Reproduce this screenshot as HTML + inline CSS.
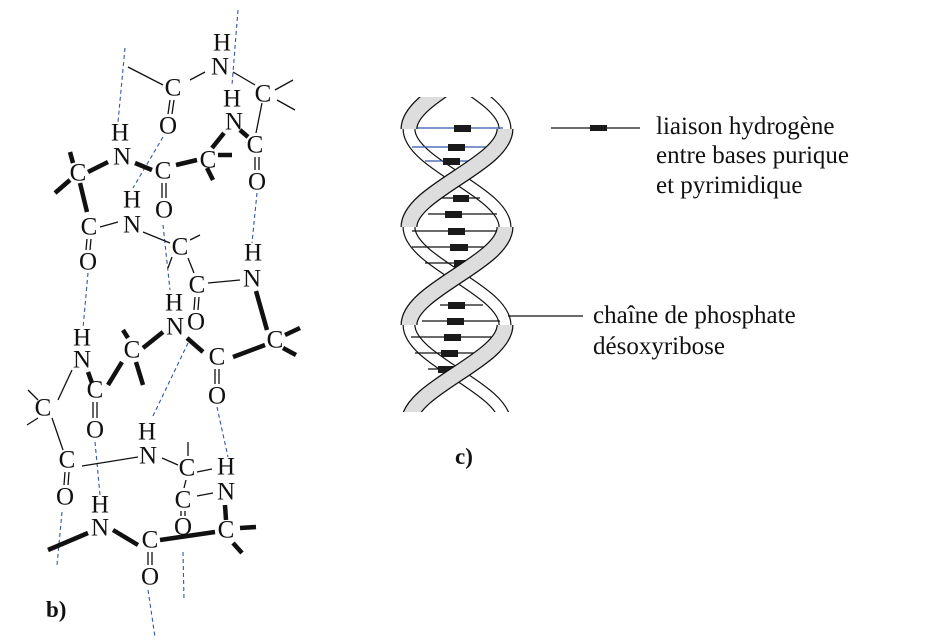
<!DOCTYPE html>
<html><head><meta charset="utf-8"><style>
html,body{margin:0;padding:0;background:#fff}
svg{display:block}
.a{font-family:"Liberation Serif",serif;font-size:25px;fill:#111;text-anchor:middle;dominant-baseline:central}
.t{font-family:"Liberation Serif",serif;font-size:25px;fill:#111}
.n{stroke:#111;stroke-width:1.3;fill:none}
.k{stroke:#111;stroke-width:4.5;fill:none}
.d{stroke:#3355aa;stroke-width:1.1;stroke-dasharray:4 3;fill:none}
</style></head><body>
<svg width="939" height="641" viewBox="0 0 939 641" xmlns="http://www.w3.org/2000/svg">
<g class="d">
<line x1="125" y1="48" x2="118" y2="122"/>
<line x1="238" y1="10" x2="232" y2="85"/>
<line x1="163" y1="137" x2="133" y2="188"/>
<line x1="257" y1="193" x2="252" y2="243"/>
<line x1="88" y1="273" x2="83" y2="328"/>
<line x1="163" y1="225" x2="170" y2="290"/>
<line x1="188" y1="343" x2="152" y2="418"/>
<line x1="217" y1="407" x2="228" y2="457"/>
<line x1="95" y1="442" x2="100" y2="495"/>
<line x1="62" y1="512" x2="57" y2="565"/>
<line x1="183" y1="552" x2="184" y2="600"/>
<line x1="148" y1="590" x2="155" y2="637"/>
</g>
<g class="n">
<line x1="128" y1="67" x2="163" y2="85"/>
<line x1="190" y1="80" x2="205" y2="72"/>
<line x1="233" y1="72" x2="255" y2="85"/>
<line x1="275" y1="90" x2="293" y2="80"/>
<line x1="277" y1="100" x2="295" y2="110"/>
<line x1="262" y1="103" x2="256" y2="133"/>
<line x1="100" y1="227" x2="118" y2="222"/>
<line x1="143" y1="232" x2="170" y2="243"/>
<line x1="190" y1="240" x2="200" y2="235"/>
<line x1="172" y1="257" x2="168" y2="268"/>
<line x1="188" y1="258" x2="194" y2="273"/>
<line x1="208" y1="283" x2="240" y2="280"/>
<line x1="72" y1="370" x2="58" y2="400"/>
<line x1="28" y1="390" x2="38" y2="400"/>
<line x1="27" y1="425" x2="38" y2="418"/>
<line x1="52" y1="418" x2="63" y2="450"/>
<line x1="82" y1="466" x2="138" y2="457"/>
<line x1="162" y1="458" x2="178" y2="465"/>
<line x1="188" y1="442" x2="188" y2="456"/>
<line x1="197" y1="472" x2="212" y2="469"/>
<line x1="197" y1="496" x2="213" y2="493"/>
<line x1="186" y1="480" x2="184" y2="488"/>
<line x1="170" y1="100" x2="168" y2="114"/><line x1="174" y1="100" x2="172" y2="114"/>
<line x1="255" y1="157" x2="255" y2="170"/><line x1="259" y1="157" x2="259" y2="170"/>
<line x1="162" y1="183" x2="162" y2="198"/><line x1="166" y1="183" x2="166" y2="198"/>
<line x1="87" y1="239" x2="86" y2="250"/><line x1="91" y1="239" x2="90" y2="250"/>
<line x1="195" y1="297" x2="194" y2="310"/><line x1="199" y1="297" x2="198" y2="310"/>
<line x1="215" y1="369" x2="215" y2="384"/><line x1="219" y1="369" x2="219" y2="384"/>
<line x1="93" y1="402" x2="93" y2="418"/><line x1="97" y1="402" x2="97" y2="418"/>
<line x1="65" y1="472" x2="64" y2="485"/><line x1="69" y1="472" x2="68" y2="485"/>
<line x1="181" y1="511" x2="181" y2="516"/><line x1="185" y1="511" x2="185" y2="516"/>
<line x1="148" y1="552" x2="148" y2="565"/><line x1="152" y1="552" x2="152" y2="565"/>
</g>
<g class="k">
<line x1="240" y1="130" x2="248" y2="137"/>
<line x1="224" y1="133" x2="212" y2="148"/>
<line x1="218" y1="155" x2="232" y2="155"/>
<line x1="207" y1="168" x2="213" y2="180"/>
<line x1="176" y1="165" x2="197" y2="160"/>
<line x1="135" y1="163" x2="152" y2="170"/>
<line x1="88" y1="172" x2="108" y2="162"/>
<line x1="70" y1="152" x2="73" y2="163"/>
<line x1="55" y1="193" x2="70" y2="180"/>
<line x1="80" y1="183" x2="87" y2="212"/>
<line x1="256" y1="291" x2="267" y2="330"/>
<line x1="285" y1="335" x2="300" y2="328"/>
<line x1="283" y1="348" x2="296" y2="355"/>
<line x1="233" y1="357" x2="265" y2="345"/>
<line x1="203" y1="352" x2="187" y2="338"/>
<line x1="163" y1="332" x2="143" y2="348"/>
<line x1="123" y1="330" x2="128" y2="338"/>
<line x1="136" y1="362" x2="143" y2="385"/>
<line x1="122" y1="362" x2="108" y2="385"/>
<line x1="88" y1="372" x2="92" y2="383"/>
<line x1="225" y1="505" x2="226" y2="520"/>
<line x1="240" y1="528" x2="256" y2="527"/>
<line x1="233" y1="543" x2="242" y2="553"/>
<line x1="160" y1="540" x2="215" y2="532"/>
<line x1="113" y1="530" x2="138" y2="545"/>
<line x1="48" y1="550" x2="88" y2="533"/>
</g>
<g class="a">
<text x="222" y="43">H</text><text x="220" y="67">N</text>
<text x="173" y="88">C</text><text x="168" y="126">O</text>
<text x="263" y="94">C</text><text x="232" y="99">H</text><text x="234" y="122">N</text>
<text x="255" y="145">C</text><text x="257" y="182">O</text>
<text x="120" y="133">H</text><text x="122" y="157">N</text>
<text x="78" y="173">C</text><text x="163" y="171">C</text><text x="164" y="210">O</text>
<text x="208" y="160">C</text>
<text x="132" y="200">H</text><text x="132" y="225">N</text>
<text x="89" y="227">C</text><text x="88" y="262">O</text>
<text x="180" y="247">C</text><text x="197" y="285">C</text><text x="196" y="322">O</text>
<text x="253" y="253">H</text><text x="252" y="279">N</text>
<text x="275" y="340">C</text>
<text x="174" y="303">H</text><text x="175" y="327">N</text>
<text x="132" y="350">C</text><text x="217" y="357">C</text><text x="217" y="396">O</text>
<text x="82" y="338">H</text><text x="82" y="360">N</text>
<text x="95" y="390">C</text><text x="95" y="430">O</text>
<text x="43" y="408">C</text>
<text x="147" y="432">H</text><text x="148" y="456">N</text>
<text x="67" y="460">C</text><text x="65" y="497">O</text>
<text x="187" y="468">C</text><text x="226" y="467">H</text><text x="226" y="492">N</text>
<text x="183" y="500">C</text><text x="183" y="527">O</text>
<text x="226" y="530">C</text>
<text x="100" y="505">H</text><text x="100" y="528">N</text>
<text x="150" y="540">C</text><text x="150" y="577">O</text>
</g>
<text x="46" y="617" style="font-family:'Liberation Serif',serif;font-size:23px;font-weight:bold;fill:#111">b)</text>

<defs><clipPath id="cp"><rect x="380" y="97" width="160" height="315"/></clipPath></defs>
<g clip-path="url(#cp)">
 <g fill="none">
  <path d="M409,31 C409,66 505,94 505,129 C505,164 409,192 409,227 C409,262 505,290 505,325 C505,360 409,388 409,423" stroke="#111" stroke-width="13"/>
  <path d="M409,31 C409,66 505,94 505,129 C505,164 409,192 409,227 C409,262 505,290 505,325 C505,360 409,388 409,423" stroke="#fff" stroke-width="10.6"/>
  <path d="M505,31 C505,66 409,94 409,129 C409,164 505,192 505,227 C505,262 409,290 409,325 C409,360 505,388 505,423" stroke="#111" stroke-width="13"/>
  <path d="M505,31 C505,66 409,94 409,129 C409,164 505,192 505,227 C505,262 409,290 409,325 C409,360 505,388 505,423" stroke="#fff" stroke-width="10.6"/>
 </g>
 <g stroke-width="1.3">
  <line x1="415" y1="128" x2="503" y2="128" stroke="#3355aa"/>
  <line x1="412" y1="147" x2="493" y2="147" stroke="#3355aa"/>
  <line x1="425" y1="161" x2="475" y2="161" stroke="#3355aa"/>
  <line x1="440" y1="198" x2="480" y2="198" stroke="#111"/>
  <line x1="428" y1="214" x2="497" y2="214" stroke="#111"/>
  <line x1="412" y1="231" x2="505" y2="231" stroke="#111"/>
  <line x1="412" y1="247" x2="503" y2="247" stroke="#111"/>
  <line x1="425" y1="263" x2="485" y2="263" stroke="#111"/>
  <line x1="440" y1="305" x2="483" y2="305" stroke="#111"/>
  <line x1="422" y1="321" x2="500" y2="321" stroke="#111"/>
  <line x1="411" y1="337" x2="505" y2="337" stroke="#111"/>
  <line x1="415" y1="353" x2="495" y2="353" stroke="#111"/>
  <line x1="428" y1="369" x2="470" y2="369" stroke="#111"/>
 </g>
 <g fill="#1a1a1a">
  <rect x="454" y="125" width="17" height="7"/>
  <rect x="448" y="144" width="17" height="7"/>
  <rect x="443" y="158" width="17" height="7"/>
  <rect x="453" y="195" width="16" height="7"/>
  <rect x="445" y="211" width="17" height="7"/>
  <rect x="448" y="228" width="17" height="7"/>
  <rect x="450" y="244" width="18" height="7"/>
  <rect x="454" y="260" width="17" height="7"/>
  <rect x="448" y="302" width="17" height="7"/>
  <rect x="447" y="318" width="17" height="7"/>
  <rect x="444" y="334" width="17" height="7"/>
  <rect x="441" y="350" width="17" height="7"/>
  <rect x="438" y="366" width="17" height="7"/>
 </g>
 <g fill="none">
  <path d="M505,31 C505,66 409,94 409,129" stroke="#111" stroke-width="17"/>
  <path d="M505,31 C505,66 409,94 409,129" stroke="#ddd" stroke-width="14.5"/>
  <path d="M505,129 C505,164 409,192 409,227" stroke="#111" stroke-width="17"/>
  <path d="M505,129 C505,164 409,192 409,227" stroke="#ddd" stroke-width="14.5"/>
  <path d="M505,227 C505,262 409,290 409,325" stroke="#111" stroke-width="17"/>
  <path d="M505,227 C505,262 409,290 409,325" stroke="#ddd" stroke-width="14.5"/>
  <path d="M505,325 C505,360 409,388 409,423" stroke="#111" stroke-width="17"/>
  <path d="M505,325 C505,360 409,388 409,423" stroke="#ddd" stroke-width="14.5"/>
 </g>
</g>
<line x1="551" y1="128" x2="640" y2="128" stroke="#111" stroke-width="1.3"/>
<rect x="590" y="125" width="17" height="6" fill="#1a1a1a"/>
<text class="t" x="656" y="134">liaison hydrogène</text>
<text class="t" x="656" y="163">entre bases purique</text>
<text class="t" x="656" y="193">et pyrimidique</text>
<line x1="508" y1="316" x2="583" y2="316" stroke="#111" stroke-width="1.3"/>
<text class="t" x="593" y="323">chaîne de phosphate</text>
<text class="t" x="593" y="354">désoxyribose</text>
<text x="455" y="464" style="font-family:'Liberation Serif',serif;font-size:23px;font-weight:bold;fill:#111">c)</text>
</svg>
</body></html>
